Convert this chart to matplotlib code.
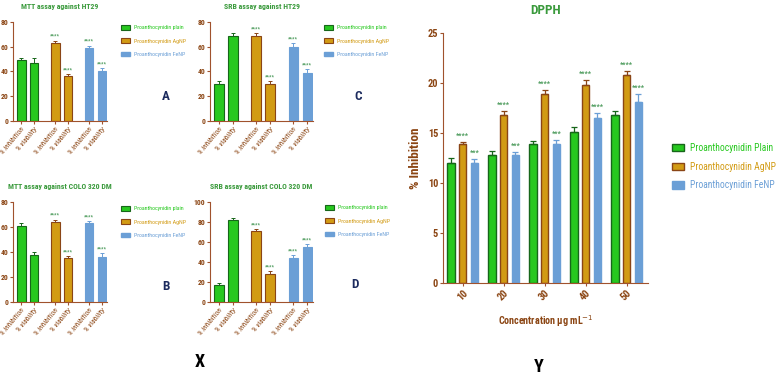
import numpy as np
import matplotlib
matplotlib.use("Agg")
import matplotlib.pyplot as plt
from matplotlib.patches import Patch

# narrow sans first (the figure uses an Arial Narrow look), then normal fallbacks
plt.rcParams['font.family'] = ['Roboto Condensed', 'Archivo Narrow', 'PT Sans Narrow',
                               'Liberation Sans Narrow', 'Liberation Sans', 'DejaVu Sans']

# data for the four small panels (plain inh, plain via, AgNP inh, AgNP via, FeNP inh, FeNP via)
bar_labels = ['% inhibition', '% viability'] * 3
mtt_ht29 = [49, 47, 63, 36, 59, 40]
mtt_ht29_err = [2, 4, 2, 2, 2, 3]
srb_ht29 = [30, 69, 69, 30, 60, 39]
srb_ht29_err = [2.5, 2, 2, 2.5, 3, 3]
mtt_colo = [61, 38, 64, 35, 63, 36]
mtt_colo_err = [2, 2, 2, 2, 2, 3]
srb_colo = [17, 82, 71, 28, 44, 55]
srb_colo_err = [2, 2, 2, 3, 3, 3]
small_stars = ['', '', '****', '****', '****', '****']

# DPPH data
conc = ['10', '20', '30', '40', '50']
dpph_plain = [12.0, 12.8, 13.9, 15.1, 16.8]
dpph_plain_err = [0.5, 0.4, 0.3, 0.5, 0.4]
dpph_agnp = [13.9, 16.8, 18.9, 19.8, 20.8]
dpph_agnp_err = [0.2, 0.4, 0.4, 0.5, 0.4]
dpph_fenp = [12.0, 12.8, 13.9, 16.5, 18.1]
dpph_fenp_err = [0.4, 0.3, 0.4, 0.5, 0.8]
agnp_stars = ['****'] * 5
fenp_stars = ['***', '***', '***', '****', '****']

# colours
green, green_edge = '#27c81f', '#17661a'
gold, gold_edge = '#d29b14', '#8a4516'
blue, blue_edge = '#6b9fd6', '#6b9fd6'
axis_col = '#a0522d'
label_col = '#8b4513'
title_col = '#3a9a3c'
star_col = '#4a9a5a'
letter_col = '#1c2b5e'

W, H = 778, 377
fig = plt.figure(figsize=(W / 100, H / 100), dpi=100)


def px_axes(x0, y0, x1, y1):
    # pixel box -> figure axes
    return fig.add_axes([x0 / W, 1 - y1 / H, (x1 - x0) / W, (y1 - y0) / H])


def style_axis(ax, fs):
    for s in ['top', 'right']:
        ax.spines[s].set_visible(False)
    for s in ['left', 'bottom']:
        ax.spines[s].set_color(axis_col)
        ax.spines[s].set_linewidth(0.8)
    ax.tick_params(colors=axis_col, labelcolor=label_col, labelsize=fs, width=0.8, length=2.5, pad=1)
    for t in ax.get_yticklabels():
        t.set_fontweight('bold')


def small_panel(box, title, vals, errs, ymax, letter, letter_xy, legend_xy):
    ax = px_axes(*box)
    pos = np.array([0, 1, 2.65, 3.65, 5.3, 6.3])
    faces = [green, green, gold, gold, blue, blue]
    edges = [green_edge, green_edge, gold_edge, gold_edge, blue_edge, blue_edge]
    ax.bar(pos, vals, width=0.68, color=faces, edgecolor=edges, linewidth=0.8)
    for p, v, e, ec, st in zip(pos, vals, errs, edges, small_stars):
        ax.errorbar(p, v, yerr=[[0], [e]], color=ec, capsize=1.5, elinewidth=0.7, capthick=0.7)
        if st:
            ax.text(p, v + e + ymax * 0.015, st, color=star_col, fontsize=4,
                    ha='center', va='bottom', fontweight='bold')
    ax.set_xlim(-0.65, 6.7)
    ax.set_ylim(0, ymax)
    ax.set_yticks(np.arange(0, ymax + 1, 20))
    ax.set_xticks(pos)
    ax.set_xticklabels(bar_labels, rotation=50, ha='right', rotation_mode='anchor',
                       fontstyle='italic')
    style_axis(ax, 5.5)
    ax.set_title(title, color=title_col, fontsize=5.6, fontweight='bold', pad=9)
    fig.text(letter_xy[0] / W, 1 - letter_xy[1] / H, letter, color=letter_col,
             fontsize=9.5, fontweight='bold', ha='center', va='center')
    handles = [Patch(facecolor=green, edgecolor=green_edge, linewidth=0.8),
               Patch(facecolor=gold, edgecolor=gold_edge, linewidth=0.8),
               Patch(facecolor=blue, edgecolor=blue_edge)]
    names = ['Proanthocynidin plain', 'Proanthocynidin AgNP', 'Proanthocynidin FeNP']
    fig.legend(handles, names, loc='upper left',
               bbox_to_anchor=(legend_xy[0] / W, 1 - legend_xy[1] / H),
               frameon=False, fontsize=4.2, labelcolor=[green, gold, blue],
               handlelength=1.6, handleheight=0.9, handletextpad=0.7, labelspacing=1.35,
               borderaxespad=0, borderpad=0)
    return ax


small_panel((13, 22, 107, 121), 'MTT assay against HT29', mtt_ht29, mtt_ht29_err, 80,
            'A', (166, 97), (121, 25))
small_panel((210, 22, 313, 121), 'SRB assay against HT29', srb_ht29, srb_ht29_err, 80,
            'C', (358, 97), (324, 25))
small_panel((13, 202, 107, 302), 'MTT assay against COLO 320 DM', mtt_colo, mtt_colo_err, 80,
            'B', (166, 287), (121, 206))
small_panel((210, 202, 313, 302), 'SRB assay against COLO 320 DM', srb_colo, srb_colo_err, 100,
            'D', (355, 285), (325, 205))

# DPPH panel
ax = px_axes(443, 33, 648, 283)
x = np.arange(len(conc))
off, bw = 0.285, 0.18
series = [(dpph_plain, dpph_plain_err, green, green_edge, None),
          (dpph_agnp, dpph_agnp_err, gold, gold_edge, agnp_stars),
          (dpph_fenp, dpph_fenp_err, blue, blue_edge, fenp_stars)]
for i, (vals, errs, fc, ec, stars) in enumerate(series):
    xs = x + (i - 1) * off
    ax.bar(xs, vals, width=bw, color=fc, edgecolor=ec, linewidth=1.0)
    ax.errorbar(xs, vals, yerr=[np.zeros(len(errs)), errs], fmt='none', ecolor=ec,
                capsize=2, elinewidth=0.9, capthick=0.9)
    if stars:
        for xx, v, e, st in zip(xs, vals, errs, stars):
            ax.text(xx, v + e + 0.25, st, color=star_col, fontsize=5,
                    ha='center', va='bottom', fontweight='bold')
ax.set_xlim(-0.48, 4.52)
ax.set_ylim(0, 25)
ax.set_yticks([0, 5, 10, 15, 20, 25])
ax.set_xticks(x)
ax.set_xticklabels(conc, rotation=45, ha='right', rotation_mode='anchor', fontweight='bold')
style_axis(ax, 7.5)
ax.set_ylabel('% Inhibition', color=label_col, fontsize=9.5, fontweight='bold', labelpad=4)
ax.set_xlabel('Concentration μg mL$^{-1}$', color=label_col, fontsize=7.2,
              fontweight='bold', labelpad=8)
ax.set_title('DPPH', color=title_col, fontsize=9.5, fontweight='bold', pad=14)

handles = [Patch(facecolor=green, edgecolor=green_edge, linewidth=1.0),
           Patch(facecolor=gold, edgecolor=gold_edge, linewidth=1.0),
           Patch(facecolor=blue, edgecolor=blue_edge)]
fig.legend(handles, ['Proanthocynidin Plain', 'Proanthocynidin AgNP', 'Proanthocynidin FeNP'],
           loc='upper left', bbox_to_anchor=(672 / W, 1 - 143 / H), frameon=False,
           fontsize=6.9, labelcolor=[green, gold, blue], handlelength=1.3, handleheight=0.8,
           handletextpad=0.6, labelspacing=0.9, borderaxespad=0, borderpad=0)

fig.text(200 / W, 1 - 362 / H, 'X', fontsize=13, fontweight='bold', ha='center', va='center')
fig.text(539 / W, 1 - 367 / H, 'Y', fontsize=13, fontweight='bold', ha='center', va='center')

fig.savefig('out.png', dpi=100)
